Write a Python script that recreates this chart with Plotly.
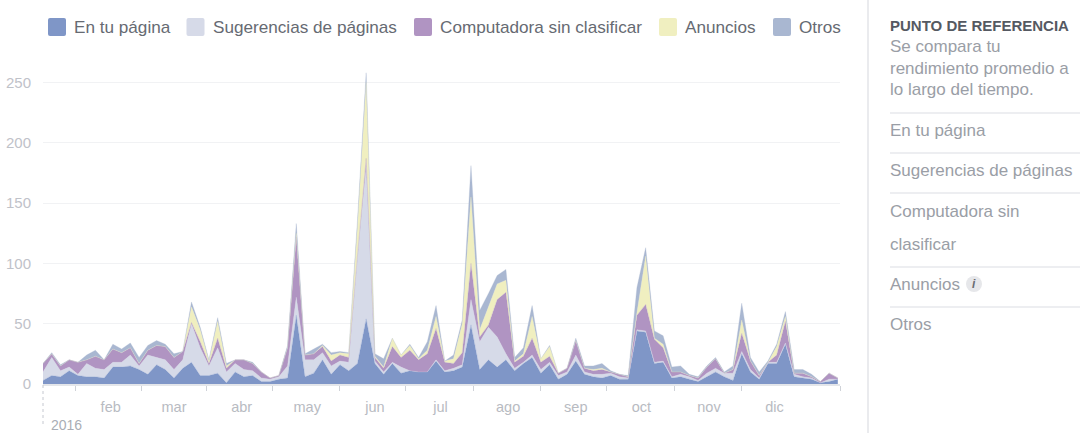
import pandas as pd
import plotly.graph_objects as go

en_tu_pagina = [3,7,6,11,7,6,6,5,14,14,15,12,8,16,12,5,13,18,7,7,9,1,10,6,7,2,2,4,5,57,6,9,20,8,16,11,17,54,17,8,17,9,11,10,10,19,10,11,14,49,12,20,14,20,11,17,22,9,16,4,8,19,8,6,5,7,4,4,44,43,17,18,5,6,4,2,6,10,6,3,25,10,4,17,17,33,6,5,4,1,2,4]
sugerencias = [7,15,5,3,1,11,7,7,4,4,9,3,16,6,8,7,7,32,23,8,21,9,7,6,4,3,2,2,10,15,14,11,6,7,3,7,88,126,2,2,1,5,0,0,0,1,1,2,2,21,23,27,25,5,2,1,2,3,2,3,2,5,2,2,3,2,2,1,1,1,1,1,1,2,2,1,3,3,3,6,2,2,1,1,1,1,2,1,1,0,2,0]
computadora = [7,3,4,6,10,3,10,8,11,8,6,2,4,10,11,10,7,1,5,2,8,3,3,8,6,5,1,1,15,50,4,5,5,4,5,4,1,7,3,3,13,8,17,10,15,26,7,4,10,30,4,2,31,51,5,5,14,6,5,2,3,12,3,3,4,1,2,1,12,22,19,11,4,2,1,2,5,8,0,3,15,7,2,0,6,18,1,3,1,1,5,1]
anuncios = [0,0,0,0,0,0,0,0,0,0,0,0,0,0,0,0,0,13,10,2,14,2,0,0,0,0,0,0,0,3,0,0,1,5,2,3,24,63,1,1,7,2,4,1,3,10,1,4,24,55,6,15,13,10,1,2,18,3,8,0,0,0,0,1,1,0,0,0,2,40,1,3,0,0,0,0,0,0,0,0,11,0,0,0,7,4,0,0,0,0,0,0]
otros = [0,1,1,0,0,4,5,0,4,3,4,5,4,4,2,3,0,4,2,1,3,2,0,0,1,0,0,0,2,8,1,4,1,2,1,1,5,8,2,7,0,0,1,1,7,9,0,3,3,26,16,11,7,9,3,5,9,0,1,0,0,2,2,3,4,1,0,1,21,7,6,7,4,5,1,1,1,1,1,3,14,3,3,1,2,4,3,3,2,0,0,0]

series_names = ["En tu página", "Sugerencias de páginas", "Computadora sin clasificar", "Anuncios", "Otros"]
series_colors = ["#7f96c7", "#d6dae8", "#b094c2", "#f0efc0", "#a9b7d1"]
series_values = [en_tu_pagina, sugerencias, computadora, anuncios, otros]
dates = pd.date_range("2016-01-01", periods=92, freq="4D")

month_dates = ["2016-02-01","2016-03-01","2016-04-01","2016-05-01","2016-06-01","2016-07-01","2016-08-01","2016-09-01","2016-10-01","2016-11-01","2016-12-01"]
month_labels = ["feb","mar","abr","may","jun","jul","ago","sep","oct","nov","dic"]
mid_month_ticks = ["2016-01-16","2016-02-15","2016-03-16","2016-04-15","2016-05-16","2016-06-15","2016-07-16","2016-08-16","2016-09-15","2016-10-16","2016-11-16","2016-12-31"]
y_ticks = [0, 50, 100, 150, 200, 250]

L, R, T, B = 43, 840, 60, 384
px = lambda x: (x - L) / (R - L)
py = lambda y: (B - y) / (B - T)
FONT = "Liberation Sans"
TEXT = "#666a72"
MUTED = "#9a9ea6"

fig = go.Figure()
for name, color, vals in zip(series_names, series_colors, series_values):
    fig.add_trace(go.Scatter(x=dates, y=vals, name=name, mode="lines", stackgroup="one",
                             fillcolor=color, line=dict(color=color, width=0.3), showlegend=False))

annotations, shapes = [], []

def text(x, y, s, size=17, color=MUTED, anchor="left", family=FONT):
    annotations.append(dict(x=px(x), y=py(y), xref="paper", yref="paper", text=s, showarrow=False,
                            xanchor=anchor, yanchor="middle", xshift=0, borderpad=0, borderwidth=0,
                            font=dict(size=size, color=color, family=family)))

def hline(x0, x1, y, color="#dcdee3", width=1.2):
    shapes.append(dict(type="line", xref="paper", yref="paper", x0=px(x0), x1=px(x1), y0=py(y), y1=py(y),
                       line=dict(color=color, width=width)))

def round_rect(x0, y0, x1, y1, r, color):
    a, b, c, d = px(x0), px(x1), py(y0), py(y1)
    rx, ry = r / (R - L), r / (B - T)
    path = (f"M{a+rx},{c} L{b-rx},{c} Q{b},{c} {b},{c-ry} L{b},{d+ry} Q{b},{d} {b-rx},{d} "
            f"L{a+rx},{d} Q{a},{d} {a},{d+ry} L{a},{c-ry} Q{a},{c} {a+rx},{c} Z")
    shapes.append(dict(type="path", xref="paper", yref="paper", path=path, fillcolor=color, line=dict(width=0)))

# legend
swatch_x = [48, 186.5, 414, 659, 773]
for sx, name, color in zip(swatch_x, series_names, series_colors):
    round_rect(sx, 18, sx + 18, 36, 2, color)
    text(sx + 26, 26.5, name, size=17.15, color=TEXT)

# year marker
shapes.append(dict(type="line", xref="paper", yref="paper", x0=0, x1=0, y0=py(385), y1=py(425),
                   line=dict(color="#c5c8d0", width=1, dash="dot")))
text(66, 424.5, "2016", size=14, color="#a9adb5", anchor="center")

# side panel
shapes.append(dict(type="line", xref="paper", yref="paper", x0=px(868), x1=px(868), y0=py(0), y1=py(433),
                   line=dict(color="#eaebee", width=2)))
text(890, 26, "<b>PUNTO DE REFERENCIA</b>", size=15, color="#555962")
for y, s in [(46, "Se compara tu"), (68, "rendimiento promedio a"), (90, "lo largo del tiempo."),
             (130, "En tu página"), (170, "Sugerencias de páginas"), (211, "Computadora sin"),
             (244, "clasificar"), (284, "Anuncios"), (324, "Otros")]:
    text(890, y, s)
for y in [113, 153, 193, 267, 307]:
    hline(890, 1080, y)
shapes.append(dict(type="circle", xref="paper", yref="paper", x0=px(966), x1=px(982), y0=py(292), y1=py(276),
                   fillcolor="#e6e7ea", line=dict(width=0)))
text(974, 284, "<b><i>i</i></b>", size=12, color="#6a6d73", anchor="center")

fig.update_layout(
    width=1080, height=433, margin=dict(l=L, r=1080 - R, t=T, b=433 - B, autoexpand=False),
    paper_bgcolor="white", plot_bgcolor="white", showlegend=False,
    annotations=annotations, shapes=shapes,
    xaxis=dict(type="date", range=["2016-01-01", "2016-12-31"], showgrid=False, zeroline=False,
               showline=True, linecolor="#e4e6ea", linewidth=1.5,
               tickmode="array", tickvals=month_dates, ticktext=month_labels,
               ticks="outside", ticklen=9, tickcolor="rgba(0,0,0,0)",
               tickfont=dict(size=14.5, color="#b8bbc2", family=FONT),
               minor=dict(tickmode="array", tickvals=mid_month_ticks, ticks="outside", ticklen=5,
                          tickcolor="#cfd2d8", tickwidth=1, showgrid=False)),
    yaxis=dict(range=[0, 268.6], tickmode="array", tickvals=y_ticks, showgrid=True, gridcolor="#f1f2f4",
               gridwidth=1, zeroline=False, showline=False, ticks="outside", ticklen=8,
               tickcolor="rgba(0,0,0,0)", tickfont=dict(size=15, color="#bfc2c9", family=FONT)),
)

fig.write_html("out.html", config={"displayModeBar": False},
               post_script="document.body.style.margin='0';document.body.style.overflow='hidden';")
